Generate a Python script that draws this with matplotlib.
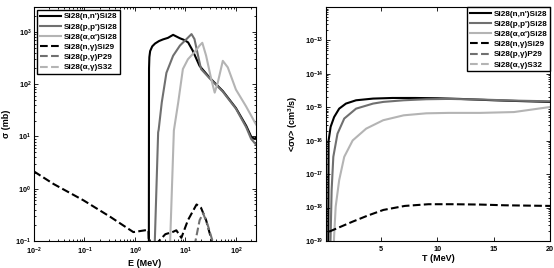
import numpy as np
import matplotlib
matplotlib.use("Agg")
import matplotlib.pyplot as plt

plt.rcParams['font.family'] = ['Liberation Sans', 'DejaVu Sans']
plt.rcParams['font.weight'] = 'bold'
plt.rcParams['mathtext.default'] = 'regular'

labels = ["Si28(n,n')Si28", "Si28(p,p')Si28", "Si28(\u03b1,\u03b1')Si28",
          "Si28(n,\u03b3)Si29", "Si28(p,\u03b3)P29", "Si28(\u03b1,\u03b3)S32"]

# left panel: cross sections sigma (mb) vs E (MeV)
E_nn = [1.88, 1.9, 1.93, 2.0, 2.2, 2.5, 3.0, 3.6, 4.5, 5.7, 7.7, 9.5, 11.3, 14, 19, 30, 55, 100, 160, 200, 230, 250]
s_nn = [0.01, 200, 330, 430, 530, 600, 670, 720, 770, 880, 760, 700, 630, 435, 225, 134, 74, 35, 16, 10, 9, 9.5]

E_pp = [2.3, 2.88, 2.95, 3.4, 4.2, 5.7, 7.8, 10.5, 13.2, 15.1, 17.8, 20.4, 30, 55, 100, 160, 200, 250]
s_pp = [0.01, 12, 13.5, 45, 165, 350, 550, 730, 910, 730, 350, 195, 130, 72, 34, 15, 9, 7]

E_aa = [4.6, 5.9, 7.2, 8.9, 11.2, 15.1, 19.1, 21.6, 25.7, 32.4, 38, 43.7, 55, 69, 100, 158, 250]
s_aa = [0.01, 13, 45, 195, 300, 410, 550, 620, 350, 126, 69, 107, 280, 210, 79, 38, 17]

E_ng = [0.01, 0.0245, 0.0955, 0.324, 0.93, 1.7, 1.85, 1.95, 2.6, 2.7, 4.0, 5.7, 6.6,
        8.3, 11.2, 16.6, 20.4, 25.7, 32.4, 36]
s_ng = [2.14, 1.23, 0.60, 0.29, 0.148, 0.162, 0.16, 0.03, 0.03, 0.09, 0.135, 0.15, 0.16,
        0.115, 0.25, 0.5, 0.43, 0.25, 0.11, 0.07]

E_pg = [15.1, 19.1, 22.4, 28.2, 35.5]
s_pg = [0.08, 0.25, 0.34, 0.19, 0.09]

# right panel: rates <sigma v> (cm^3/s) vs T (MeV)
T_nn = [0.3, 0.33, 0.51, 0.82, 1.27, 1.87, 2.77, 4.28, 6, 8, 10, 12, 15, 18, 20]
r_nn = [3e-20, 1e-16, 2.6e-16, 5.1e-16, 9.1e-16, 1.29e-15, 1.62e-15, 1.82e-15, 1.9e-15,
        1.9e-15, 1.86e-15, 1.78e-15, 1.62e-15, 1.51e-15, 1.45e-15]

T_pp = [0.45, 0.51, 0.6, 0.75, 1.12, 1.72, 2.77, 4.28, 5.2, 7, 9, 11, 14, 17, 20]
r_pp = [3e-20, 1.35e-19, 3.3e-18, 3.3e-17, 1.62e-16, 4.6e-16, 9.1e-16, 1.29e-15, 1.45e-15,
        1.62e-15, 1.74e-15, 1.78e-15, 1.7e-15, 1.58e-15, 1.51e-15]

T_aa = [0.75, 0.82, 0.96, 1.27, 1.72, 2.47, 3.67, 5.18, 7, 9, 11, 13.8, 16.8, 20]
r_aa = [3e-20, 1.35e-19, 1.07e-18, 6.6e-18, 3.3e-17, 1.02e-16, 2.3e-16, 4.1e-16, 5.75e-16,
        6.6e-16, 6.8e-16, 6.8e-16, 7.2e-16, 1.02e-15]

T_ng = [0.37, 2.47, 3.8, 5.2, 7.1, 9.2, 11.35, 13.8, 16, 20]
r_ng = [1.9e-19, 3.8e-19, 5.75e-19, 8.5e-19, 1.12e-18, 1.26e-18, 1.26e-18, 1.23e-18,
        1.17e-18, 1.12e-18]

colors = ['black', '#707070', '#b4b4b4']
lw = 1.5

fig = plt.figure(figsize=(5.54, 2.68), dpi=100)
ax1 = fig.add_axes([34 / 554, 1 - 241 / 268, 222 / 554, 234 / 268])
ax2 = fig.add_axes([326 / 554, 1 - 241 / 268, 224 / 554, 234 / 268])

leg_kw = dict(fontsize=5.9, handlelength=2.6, handletextpad=0.3, labelspacing=0.3,
              borderpad=0.35, fancybox=False, edgecolor='black', framealpha=1)

# left
ax1.loglog(E_nn, s_nn, color=colors[0], lw=lw, label=labels[0])
ax1.loglog(E_pp, s_pp, color=colors[1], lw=lw, label=labels[1])
ax1.loglog(E_aa, s_aa, color=colors[2], lw=lw, label=labels[2])
ax1.loglog(E_ng, s_ng, '--', color=colors[0], lw=lw, label=labels[3])
ax1.loglog(E_pg, s_pg, '--', color=colors[1], lw=lw, label=labels[4])
ax1.loglog([], [], '--', color=colors[2], lw=lw, label=labels[5])
ax1.set_xlim(0.01, 250)
ax1.set_ylim(0.1, 3000)
ax1.set_xlabel('E (MeV)', fontsize=6.5, fontweight='bold', labelpad=1)
ax1.set_ylabel('\u03c3 (mb)', fontsize=6.5, fontweight='bold', labelpad=3)
ax1.legend(loc='upper left', borderaxespad=0.35, **leg_kw)

# right
ax2.semilogy(T_nn, r_nn, color=colors[0], lw=lw, label=labels[0])
ax2.semilogy(T_pp, r_pp, color=colors[1], lw=lw, label=labels[1])
ax2.semilogy(T_aa, r_aa, color=colors[2], lw=lw, label=labels[2])
ax2.semilogy(T_ng, r_ng, '--', color=colors[0], lw=lw, label=labels[3])
ax2.semilogy([], [], '--', color=colors[1], lw=lw, label=labels[4])
ax2.semilogy([], [], '--', color=colors[2], lw=lw, label=labels[5])
ax2.set_xlim(0.1, 20)
ax2.set_ylim(1e-19, 1e-12)
ax2.set_xticks([5, 10, 15, 20])
ax2.set_yticks([1e-19, 1e-18, 1e-17, 1e-16, 1e-15, 1e-14, 1e-13])
ax2.set_xlabel('T (MeV)', fontsize=6.5, fontweight='bold', labelpad=1)
ax2.set_ylabel('<\u03c3v> (cm$^3$/s)', fontsize=6.5, fontweight='bold', labelpad=3)
ax2.legend(loc='upper right', borderaxespad=0.0, **leg_kw)

for ax in (ax1, ax2):
    ax.tick_params(which='both', direction='in', top=True, right=True,
                   labelsize=5.2, width=0.6)
    ax.tick_params(axis='y', pad=2)
    ax.tick_params(axis='x', pad=3.5)
    ax.tick_params(which='major', length=3)
    ax.tick_params(which='minor', length=1.5)
    for sp in ax.spines.values():
        sp.set_linewidth(0.8)
ax2.tick_params(axis='x', which='minor', bottom=False, top=False)

fig.savefig('out.png', dpi=100)
